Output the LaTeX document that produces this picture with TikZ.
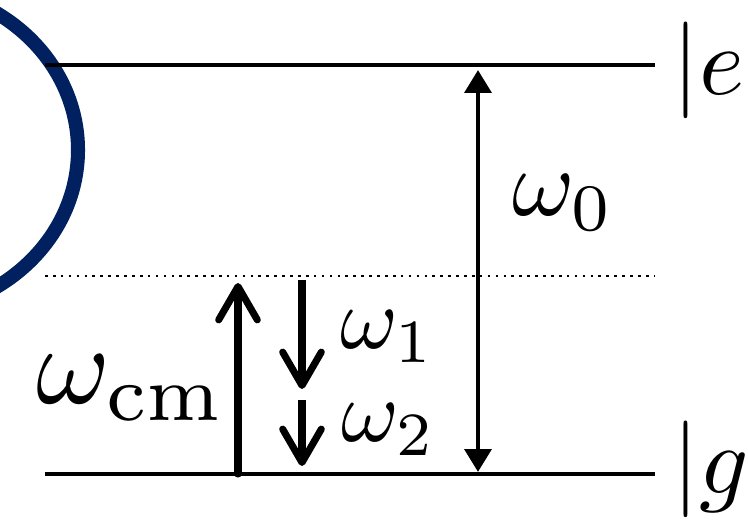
\documentclass[tikz,border=0pt]{standalone}
\usetikzlibrary{arrows.meta}
\definecolor{navy}{RGB}{0,32,96}
\begin{document}
\begin{tikzpicture}[x=0.02cm,y=-0.02cm,
  level/.style={line width=2.8pt},
  big/.style={line width=2.8pt,{Triangle[length=13pt,width=15pt]}-{Triangle[length=13pt,width=15pt]}},
  photon/.style={line width=4pt,-{Straight Barb[length=19pt,width=22pt,round]}},
  lbl/.style={inner sep=0pt,anchor=base west}]
\clip (0,0) rectangle (748,520);
% mirror
\draw[navy,line width=8pt] (-100,150) ellipse [x radius=178,y radius=163];
% levels
\coordinate (eL) at (45,65);
\coordinate (eR) at (655,65);
\coordinate (vL) at (45,276);
\coordinate (vR) at (655,276);
\coordinate (gL) at (45,474);
\coordinate (gR) at (655,474);
\draw[level] (eL) -- (eR);
\draw[level] (gL) -- (gR);
\draw[line width=1.5pt,dash pattern=on 1.5pt off 3pt] (vL) -- (vR);
% transitions
\coordinate (w0a) at (478,70);
\coordinate (w0b) at (478,472);
\coordinate (cma) at (238,474);
\coordinate (cmb) at (238,283);
\coordinate (w1a) at (302,280);
\coordinate (w1b) at (302,389);
\coordinate (w2a) at (302,400);
\coordinate (w2b) at (302,466);
\draw[big] (w0a) -- (w0b);
\draw[photon,line cap=round] (cma) -- (cmb);
\draw[photon] (w1a) -- (w1b);
\draw[photon] (w2a) -- (w2b);
% labels
\node[lbl,scale=5.4] (l0) at (511,216) {$\omega_0$};
\node[lbl,scale=6.4] (lcm) at (34,404) {$\omega_{\mathrm{cm}}$};
\node[lbl,scale=5.0] (l1) at (339,349) {$\omega_1$};
\node[lbl,scale=5.0] (l2) at (340,442) {$\omega_2$};
\node[lbl,scale=5.5] (le) at (671,95) {$|e$};
\node[lbl,scale=5.5] (lg) at (671,494) {$|g$};
\end{tikzpicture}
\end{document}
